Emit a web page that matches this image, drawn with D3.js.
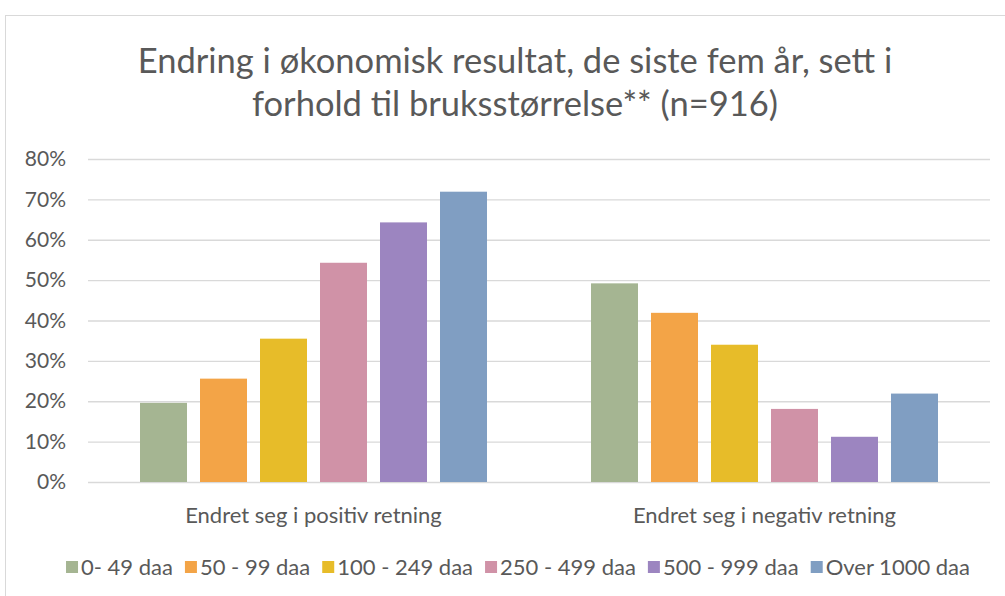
<!DOCTYPE html>
<html>
<head>
<meta charset="utf-8">
<script src="https://cdn.jsdelivr.net/npm/d3@7"></script>
<style>
  body { margin: 0; background: #fff; }
  svg text { font-family: Lato, "Open Sans", sans-serif; fill: #595959; }
</style>
</head>
<body>
<svg id="chart"></svg>
<script>
const titleLines = ["Endring i økonomisk resultat, de siste fem år, sett i", "forhold til bruksstørrelse** (n=916)"];
const categories = ["Endret seg i positiv retning", "Endret seg i negativ retning"];
const seriesNames = ["0- 49 daa", "50 - 99 daa", "100 - 249 daa", "250 - 499 daa", "500 - 999 daa", "Over 1000 daa"];
const seriesColors = ["#a5b592", "#f3a447", "#e7bc29", "#d092a7", "#9c85c0", "#809ec2"];
const positiveValues = [0.196, 0.256, 0.355, 0.543, 0.643, 0.719];
const negativeValues = [0.492, 0.419, 0.340, 0.181, 0.112, 0.219];
const yTicks = [0, 0.1, 0.2, 0.3, 0.4, 0.5, 0.6, 0.7, 0.8];

const width = 1005;
const height = 596;
const margin = {top: 159, right: 15, bottom: 114, left: 88};

const svg = d3.select("#chart")
              .attr("width", width)
              .attr("height", height);

// chart frame
svg.append("rect")
   .attr("x", 5.5)
   .attr("y", 15.5)
   .attr("width", width + 10)
   .attr("height", height + 10)
   .attr("fill", "none")
   .attr("stroke", "#d9d9d9");

svg.selectAll(".title")
   .data(titleLines)
   .enter()
   .append("text")
   .attr("class", "title")
   .attr("x", 515)
   .attr("y", (d, i) => 73 + i * 43)
   .attr("text-anchor", "middle")
   .style("font-size", "34.5px")
   .text(d => d);

const table = categories.map((c, i) => ({
    category: c,
    values: (i === 0 ? positiveValues : negativeValues).map((v, j) => ({series: seriesNames[j], value: v}))
}));

const x0 = d3.scaleBand()
             .domain(categories)
             .range([margin.left, width - margin.right]);

const x1 = d3.scaleBand()
             .domain(seriesNames)
             .range([52, x0.bandwidth() - 52])
             .paddingInner(13 / 60)
             .paddingOuter(0);

const y = d3.scaleLinear()
            .domain([0, 0.8])
            .range([height - margin.bottom, margin.top]);

const color = d3.scaleOrdinal().domain(seriesNames).range(seriesColors);

const yAxis = d3.axisLeft(y)
                .tickValues(yTicks)
                .tickFormat(d3.format(".0%"))
                .tickSize(-(width - margin.right - margin.left));

svg.append("g")
   .attr("class", "y-axis")
   .attr("transform", `translate(${margin.left},0)`)
   .call(yAxis)
   .call(g => g.select(".domain").remove())
   .call(g => g.selectAll("line").attr("stroke", "#d9d9d9").attr("stroke-width", 1.3))
   .call(g => g.selectAll("text")
               .attr("x", -22)
               .style("font-size", "21px")
               .style("font-family", "Lato, sans-serif")
               .attr("fill", "#595959"));

const groups = svg.selectAll(".group")
                  .data(table)
                  .enter()
                  .append("g")
                  .attr("class", "group")
                  .attr("transform", d => `translate(${x0(d.category)},0)`);

groups.selectAll("rect")
      .data(d => d.values)
      .enter()
      .append("rect")
      .attr("x", d => x1(d.series))
      .attr("y", d => y(d.value))
      .attr("width", x1.bandwidth())
      .attr("height", d => y(0) - y(d.value))
      .attr("fill", d => color(d.series));

svg.selectAll(".cat-label")
   .data(categories)
   .enter()
   .append("text")
   .attr("class", "cat-label")
   .attr("x", d => x0(d) + x0.bandwidth() / 2)
   .attr("y", 523)
   .attr("text-anchor", "middle")
   .style("font-size", "22px")
   .text(d => d);

// legend, laid out from the measured label widths
const legend = svg.append("g").attr("class", "legend");
const items = legend.selectAll(".legend-item")
                    .data(seriesNames)
                    .enter()
                    .append("g")
                    .attr("class", "legend-item");
items.append("rect")
     .attr("width", 12)
     .attr("height", 12)
     .attr("y", 561)
     .attr("fill", d => color(d));
items.append("text")
     .attr("x", 15)
     .attr("y", 575)
     .style("font-size", "22px")
     .text(d => d);

let cursor = 0;
const offsets = [];
items.each(function() {
    offsets.push(cursor);
    cursor += 15 + d3.select(this).select("text").node().getComputedTextLength() + 12;
});
const legendStart = (68 + 968) / 2 - (cursor - 12) / 2;
items.attr("transform", (d, i) => `translate(${legendStart + offsets[i]},0)`);
</script>
</body>
</html>
